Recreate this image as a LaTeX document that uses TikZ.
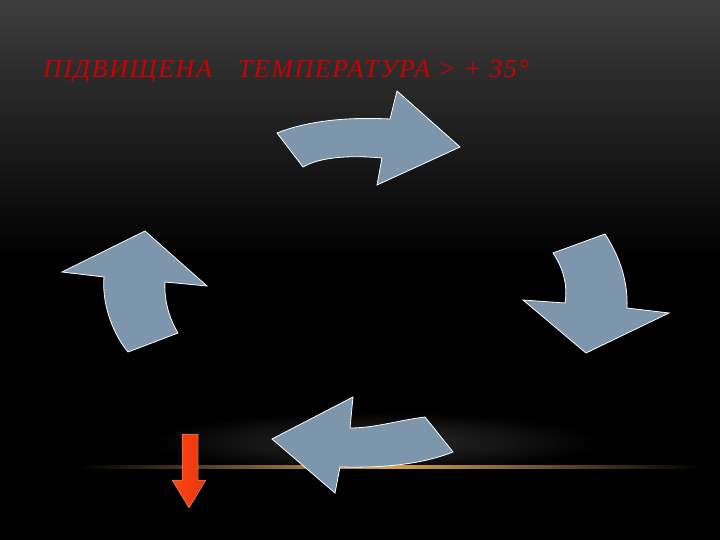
\documentclass[tikz,border=0pt]{standalone}
\usepackage{fontspec}
\setmainfont{Liberation Serif}
\definecolor{arrowblue}{HTML}{7D96AC}
\definecolor{titlered}{HTML}{CC0000}
\definecolor{glow}{HTML}{D8A050}
\definecolor{redarrow}{HTML}{FF3D12}
\begin{document}
\begin{tikzpicture}[x=1pt,y=-1pt,
  curvearrow/.style={fill=arrowblue,draw=white,line width=0.8pt,line join=miter},
  downarrow/.style={left color=redarrow!90!orange,right color=redarrow!90!black,draw=white,draw opacity=0.5,line width=0.5pt},
  title/.style={anchor=base west,inner sep=0pt,text=titlered,font=\itshape\fontsize{26}{30}\selectfont\addfontfeature{LetterSpace=6}}]
\useasboundingbox (0,0) rectangle (720,540);
% background
\fill[black] (0,0) rectangle (720,540);
\shade[top color=black!76,bottom color=black] (0,0) rectangle (720,260);
% glow
\shade[inner color=black!82!white,outer color=black] (150,412) rectangle (600,472);
\fill[black] (0,467) rectangle (720,540);
\shade[left color=black,right color=black,middle color=glow] (80,465.8) rectangle (700,468.2);
% title
\node[title] (t) at (43,78) {ПІДВИЩЕНА\hspace{1em}ТЕМПЕРАТУРА > + 35°};
% top arrow
\draw[curvearrow] (277,133) .. controls (310,120) and (350,117) .. (390,119) -- (397,91) -- (460,147) -- (377,185) -- (382,158) .. controls (350,155) and (320,157) .. (303,167) -- cycle;
% right arrow
\draw[curvearrow] (553,253) -- (605,234) .. controls (622,260) and (628,285) .. (627,308) -- (669,313) -- (586,353) -- (523,300) -- (565,303) .. controls (568,285) and (563,268) .. (553,253) -- cycle;
% bottom arrow
\draw[curvearrow] (272,439) -- (353,397) -- (350,428) .. controls (375,428) and (400,420) .. (425,417) -- (453,452) .. controls (420,465) and (380,468) .. (340,467) -- (335,493) -- cycle;
% left arrow
\draw[curvearrow] (62,272) -- (145,231) -- (207,286) -- (165,282) .. controls (164,300) and (169,318) .. (178,333) -- (128,352) .. controls (110,330) and (102,300) .. (104,277) -- cycle;
% red arrow
\draw[downarrow] (182,434) -- (198,434) -- (198,480) -- (206,480) -- (189,508) -- (172,480) -- (182,480) -- cycle;
\end{tikzpicture}
\end{document}
